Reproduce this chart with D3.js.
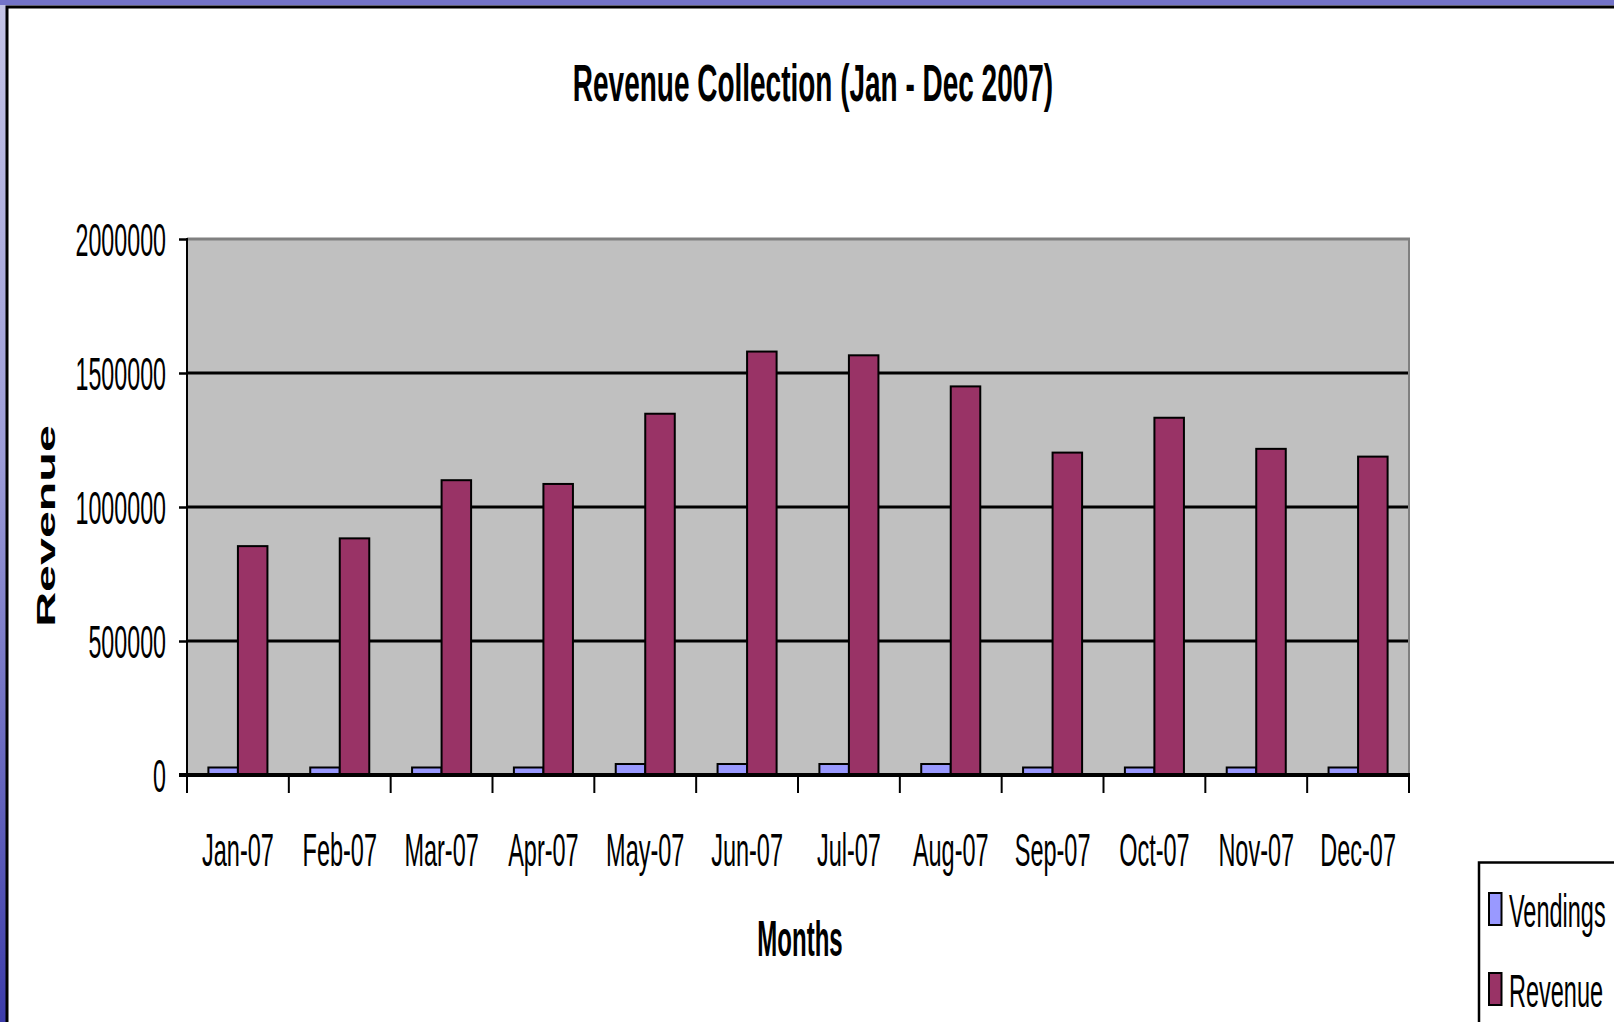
<!DOCTYPE html>
<html>
<head>
<meta charset="utf-8">
<script src="https://d3js.org/d3.v7.min.js"></script>
<style>
  html, body { margin: 0; padding: 0; overflow: hidden; background: #fff; }
  svg { display: block; }
  text { font-family: "Liberation Sans", Arial, sans-serif; fill: #000; }
</style>
</head>
<body>
<div id="chart"></div>
<script>
// data
var months = ["Jan-07", "Feb-07", "Mar-07", "Apr-07", "May-07", "Jun-07",
              "Jul-07", "Aug-07", "Sep-07", "Oct-07", "Nov-07", "Dec-07"];
var seriesNames = ["Vendings", "Revenue"];
var vendings = [28000, 28000, 28000, 28000, 41000, 41000, 41000, 41000, 28000, 28000, 28000, 28000];
var revenue = [854000, 883000, 1100000, 1086000, 1348000, 1580000,
               1566000, 1450000, 1203000, 1333000, 1217000, 1188000];
var yTicks = [0, 500000, 1000000, 1500000, 2000000];
var colors = ["#9999ff", "#993366"];

(function() {
    var width = 1614, height = 1022;
    var left = 187, right = 1409, top = 239, bottom = 775;

    var svg = d3.select("#chart").append("svg")
        .attr("width", width)
        .attr("height", height);

    // slide background behind the white panel
    var defs = svg.append("defs");
    var grad = defs.append("linearGradient")
        .attr("id", "bg").attr("x1", 0).attr("y1", 0).attr("x2", 0).attr("y2", 1);
    grad.append("stop").attr("offset", "0%").attr("stop-color", "#c4c4e6");
    grad.append("stop").attr("offset", "45%").attr("stop-color", "#9c9cd8");
    grad.append("stop").attr("offset", "100%").attr("stop-color", "#3c3caa");

    svg.append("rect").attr("width", width).attr("height", height).attr("fill", "url(#bg)");
    svg.append("rect").attr("width", width).attr("height", 5).attr("fill", "#7373c8");
    svg.append("rect")
        .attr("x", 7).attr("y", 7)
        .attr("width", width + 20).attr("height", height + 20)
        .attr("fill", "#fff")
        .attr("stroke", "#000")
        .attr("stroke-width", 3);

    // squeeze text sideways, the picture's fonts are very narrow
    function squeeze(sel, ratio) {
        sel.each(function() {
            var t = d3.select(this);
            var x = +t.attr("x") || 0;
            var base = t.attr("transform") || "";
            t.attr("x", 0)
                .attr("transform", base + " translate(" + x + ",0) scale(" + ratio + ",1)");
        });
    }

    var x0 = d3.scaleBand().domain(months).range([left, right]).padding(0);
    var x1 = d3.scaleBand().domain(seriesNames).range([0, x0.bandwidth()])
        .paddingInner(0).paddingOuter(0.725);
    var y = d3.scaleLinear().domain([0, 2000000]).range([bottom, top]);

    var rows = months.map(function(m, i) {
        return { month: m, values: [vendings[i], revenue[i]] };
    });

    // plot area
    svg.append("rect")
        .attr("x", left).attr("y", top)
        .attr("width", right - left).attr("height", bottom - top)
        .attr("fill", "#c0c0c0");

    // grid lines
    svg.append("g").selectAll("line")
        .data(yTicks.filter(function(t) { return t > 0 && t < 2000000; }))
        .enter().append("line")
        .attr("x1", left).attr("x2", right)
        .attr("y1", function(d) { return y(d); })
        .attr("y2", function(d) { return y(d); })
        .attr("stroke", "#000")
        .attr("stroke-width", 3);

    // top and right border of the plot
    svg.append("line")
        .attr("x1", left).attr("x2", right + 1)
        .attr("y1", y(2000000)).attr("y2", y(2000000))
        .attr("stroke", "#808080").attr("stroke-width", 3);
    svg.append("line")
        .attr("x1", right).attr("x2", right)
        .attr("y1", top).attr("y2", bottom)
        .attr("stroke", "#808080").attr("stroke-width", 2);

    // bars
    var groups = svg.append("g").selectAll("g")
        .data(rows)
        .enter().append("g")
        .attr("transform", function(d) { return "translate(" + x0(d.month) + ",0)"; });

    groups.selectAll("rect")
        .data(function(d) {
            return d.values.map(function(v, i) { return { name: seriesNames[i], value: v, i: i }; });
        })
        .enter().append("rect")
        .attr("x", function(d) { return x1(d.name); })
        .attr("width", x1.bandwidth())
        .attr("y", function(d) { return y(d.value); })
        .attr("height", function(d) { return bottom - y(d.value); })
        .attr("fill", function(d) { return colors[d.i]; })
        .attr("stroke", "#000")
        .attr("stroke-width", 2);

    // y axis
    var yAxis = svg.append("g")
        .attr("transform", "translate(" + left + ",0)")
        .call(d3.axisLeft(y).tickValues(yTicks).tickSize(8).tickPadding(13)
            .tickFormat(d3.format("d")));
    yAxis.select(".domain").remove();
    yAxis.selectAll(".tick line").attr("stroke", "#000").attr("stroke-width", 2.5);
    yAxis.selectAll(".tick text")
        .attr("font-size", 46.5)
        .attr("font-family", "Liberation Sans, Arial, sans-serif")
        .attr("dy", "0.36em");
    squeeze(yAxis.selectAll(".tick text"), 0.5);

    svg.append("line")
        .attr("x1", left).attr("x2", left)
        .attr("y1", top - 1).attr("y2", bottom)
        .attr("stroke", "#000").attr("stroke-width", 2);

    // x axis
    var xAxis = svg.append("g")
        .attr("transform", "translate(0," + bottom + ")")
        .call(d3.axisBottom(x0).tickSize(0).tickPadding(58));
    xAxis.select(".domain").remove();
    xAxis.selectAll(".tick text")
        .attr("font-size", 47)
        .attr("font-family", "Liberation Sans, Arial, sans-serif");
    squeeze(xAxis.selectAll(".tick text"), 0.5);

    svg.append("g").selectAll("line")
        .data(months.map(function(m) { return x0(m); }).concat([right]))
        .enter().append("line")
        .attr("x1", function(d) { return d; })
        .attr("x2", function(d) { return d; })
        .attr("y1", bottom).attr("y2", bottom + 18)
        .attr("stroke", "#000").attr("stroke-width", 2);

    svg.append("line")
        .attr("x1", left - 8).attr("x2", right + 1)
        .attr("y1", bottom).attr("y2", bottom)
        .attr("stroke", "#000").attr("stroke-width", 4);

    // titles
    var title = svg.append("text")
        .attr("x", 813).attr("y", 101.5)
        .attr("text-anchor", "middle")
        .attr("font-weight", "bold")
        .attr("font-size", 52.6)
        .text("Revenue Collection (Jan - Dec 2007)");
    squeeze(title, 0.532);

    var xTitle = svg.append("text")
        .attr("x", 800).attr("y", 956.5)
        .attr("text-anchor", "middle")
        .attr("font-weight", "bold")
        .attr("font-size", 50)
        .text("Months");
    squeeze(xTitle, 0.48);

    var yTitle = svg.append("text")
        .attr("transform", "translate(55,526) rotate(-90)")
        .attr("text-anchor", "middle")
        .attr("font-weight", "bold")
        .attr("font-size", 25.6)
        .text("Revenue");
    squeeze(yTitle, 1.89);

    // legend
    var legend = svg.append("g");
    legend.append("rect")
        .attr("x", 1479).attr("y", 862.5)
        .attr("width", 200).attr("height", 300)
        .attr("fill", "#fff")
        .attr("stroke", "#000").attr("stroke-width", 2.5);

    var items = legend.selectAll("g.item")
        .data(seriesNames)
        .enter().append("g")
        .attr("class", "item")
        .attr("transform", function(d, i) { return "translate(0," + (i * 80) + ")"; });

    items.append("rect")
        .attr("x", 1489).attr("y", 893)
        .attr("width", 12.5).attr("height", 32)
        .attr("fill", function(d, i) { return colors[i]; })
        .attr("stroke", "#000").attr("stroke-width", 2);

    var legendText = items.append("text")
        .attr("x", 1509).attr("y", 927.5)
        .attr("font-size", 47)
        .text(function(d) { return d; });
    squeeze(legendText, 0.5);
})();
</script>
</body>
</html>
